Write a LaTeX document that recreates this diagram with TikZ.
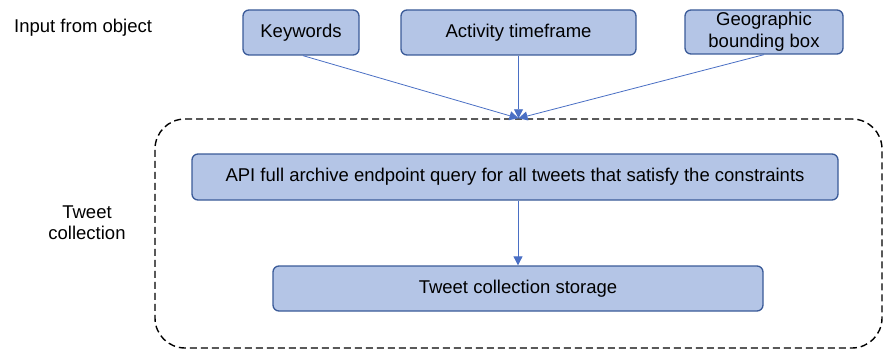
\documentclass[tikz,border=0pt]{standalone}
\usepackage{fontspec}
\setmainfont{Liberation Sans}
\usetikzlibrary{arrows.meta}

\definecolor{boxfill}{HTML}{B4C5E6}
\definecolor{boxline}{HTML}{3A5A98}
\definecolor{arrowblue}{HTML}{4A6FC4}

\tikzset{
  inbox/.style={draw=boxline, fill=boxfill, line width=1.3pt, rounded corners=6pt,
    minimum height=45pt, align=center, inner sep=2pt},
  group/.style={draw, dashed, line width=1.4pt, dash pattern=on 7pt off 4pt,
    rounded corners=30pt},
  flow/.style={draw=arrowblue, line width=0.8pt, -{Triangle[width=9pt,length=9pt]}},
}

\begin{document}
\begin{tikzpicture}[x=1pt, y=-1pt, font=\fontsize{18.5}{21}\selectfont]
\useasboundingbox (0,0) rectangle (883,350);
% inputs
\node[anchor=west, inner sep=0pt] (inlbl) at (14,28) {Input from object};
\node[inbox, minimum width=116pt] (kw) at (301,32.5) {Keywords};
\node[inbox, minimum width=235pt] (act) at (518.5,32.5) {Activity timeframe};
\node[inbox, minimum width=158pt, minimum height=44pt] (geo) at (764,32)
  {Geographic\\[1pt]bounding box};
% collection
\node[group, minimum width=727pt, minimum height=229pt] (tweets) at (518.5,233.5) {};
\node[align=center] (colllbl) at (87,223) {Tweet\\collection};
\node[inbox, minimum width=646pt, minimum height=46pt] (api) at (515,177)
  {API full archive endpoint query for all tweets that satisfy the constraints};
\node[inbox, minimum width=490pt] (store) at (518,288.5) {Tweet collection storage};
\draw[flow] (kw.south) ++(2,0) -- (tweets.north);
\draw[flow] (act.south) -- (tweets.north);
\draw[flow] (geo.south) -- (tweets.north);
\draw[flow] (api.south -| store.north) -- (store.north);
\end{tikzpicture}
\end{document}
